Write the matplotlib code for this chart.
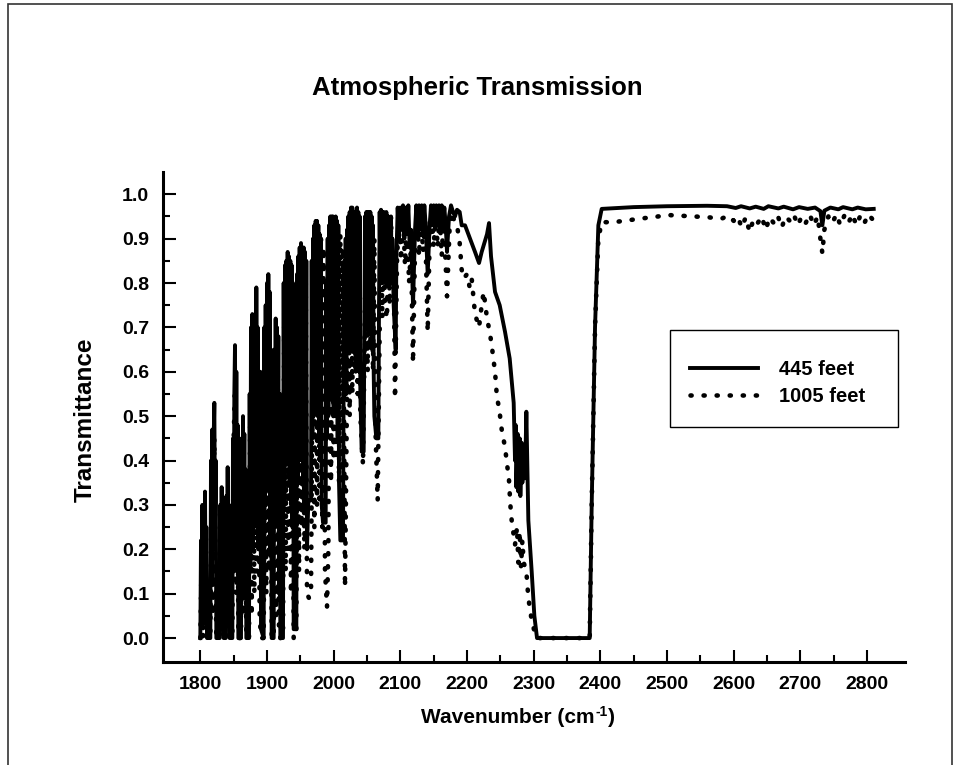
import numpy as np
import matplotlib.pyplot as plt
from matplotlib.patches import Rectangle

plt.rcParams['font.family'] = ['Liberation Sans', 'DejaVu Sans']
plt.rcParams['font.weight'] = 'bold'
plt.rcParams['path.simplify'] = False

# 445 feet path (wavenumber, transmittance)
wn_445 = [1800, 1801, 1802, 1803, 1804, 1805, 1806, 1807, 1808, 1809, 1810, 1815,
          1816, 1817, 1818, 1819, 1820, 1821, 1822, 1823, 1824, 1829,
          1830, 1831, 1832, 1833, 1834, 1835, 1838, 1839, 1840, 1841, 1842, 1843, 1844, 1848,
          1849, 1850, 1851, 1852, 1853, 1854, 1855, 1856, 1857, 1861,
          1862, 1863, 1864, 1865, 1866, 1867, 1868, 1869, 1873,
          1874, 1875, 1876, 1877, 1878, 1879, 1880, 1881, 1882, 1883, 1884, 1885, 1886, 1887,
          1888, 1889, 1890, 1891, 1895,
          1896, 1897, 1898, 1899, 1900, 1901, 1902, 1903, 1904, 1905, 1906, 1907, 1910,
          1911, 1912, 1913, 1914, 1915, 1916, 1917, 1918, 1919, 1920, 1924,
          1925, 1926, 1927, 1928, 1929, 1930, 1931, 1932, 1933, 1934, 1935, 1936, 1937, 1938,
          1939, 1940, 1944,
          1945, 1946, 1947, 1948, 1949, 1950, 1951, 1952, 1953, 1954, 1955, 1956, 1957, 1958,
          1959, 1960, 1962, 1966,
          1967, 1968, 1969, 1970, 1971, 1972, 1973, 1974, 1975, 1976, 1977, 1978, 1979, 1980,
          1981, 1982, 1984, 1988,
          1989, 1990, 1991, 1992, 1993, 1994, 1995, 1996, 1997, 1998, 1999, 2000, 2001, 2002,
          2003, 2004, 2005, 2006, 2007, 2008, 2010, 2014,
          2015, 2016, 2017, 2018, 2019, 2020, 2021, 2022, 2023, 2024, 2025, 2026, 2027, 2028,
          2029, 2030, 2031, 2032, 2033, 2034, 2035, 2036, 2037, 2038, 2039, 2040, 2042, 2045,
          2046, 2047, 2048, 2049, 2050, 2051, 2052, 2053, 2054, 2055, 2056, 2057, 2058, 2059,
          2060, 2061, 2064, 2067,
          2068, 2069, 2070, 2071, 2072, 2073, 2074, 2075, 2076, 2077, 2078, 2079, 2080, 2081,
          2082, 2083, 2084, 2085, 2086, 2087, 2088, 2090, 2093,
          2094, 2096, 2098, 2100, 2102, 2104, 2106, 2108, 2110, 2112, 2114, 2116, 2119, 2122,
          2124, 2126, 2128, 2130, 2132, 2134, 2136, 2138, 2141, 2144, 2146, 2148, 2150, 2152,
          2154, 2156, 2158, 2160, 2162, 2164, 2166, 2168, 2170, 2173, 2176, 2179, 2182, 2185,
          2189, 2192, 2197, 2202, 2207, 2212, 2218, 2222, 2226, 2230, 2233, 2236, 2242, 2249,
          2257, 2264, 2270, 2272, 2273, 2274, 2276, 2277, 2279, 2280, 2282, 2283, 2285, 2287,
          2289, 2292, 2297, 2301, 2305, 2384, 2387, 2392, 2397, 2402, 2450, 2500, 2560, 2590,
          2603, 2611, 2624, 2633, 2645, 2652, 2667, 2675, 2689, 2698, 2711, 2722, 2730, 2733,
          2736, 2745, 2757, 2764, 2778, 2786, 2798, 2810]
tr_445 = [0.00, 0.22, 0.05, 0.30, 0.08, 0.28, 0.04, 0.33, 0.10, 0.25, 0.00, 0.00,
          0.40, 0.12, 0.47, 0.20, 0.45, 0.53, 0.25, 0.40, 0.00, 0.00,
          0.30, 0.05, 0.34, 0.10, 0.30, 0.00, 0.00, 0.32, 0.08, 0.385, 0.10, 0.30, 0.00, 0.00,
          0.45, 0.15, 0.55, 0.66, 0.25, 0.60, 0.15, 0.48, 0.00, 0.00,
          0.45, 0.15, 0.50, 0.20, 0.46, 0.10, 0.38, 0.00, 0.00,
          0.55, 0.15, 0.70, 0.25, 0.73, 0.20, 0.60, 0.25, 0.72, 0.30, 0.79, 0.35, 0.70, 0.20,
          0.55, 0.25, 0.60, 0.02, 0.00,
          0.70, 0.30, 0.75, 0.35, 0.80, 0.40, 0.82, 0.40, 0.78, 0.20, 0.65, 0.00, 0.00,
          0.65, 0.25, 0.72, 0.30, 0.70, 0.35, 0.68, 0.10, 0.55, 0.00, 0.00,
          0.80, 0.30, 0.84, 0.40, 0.85, 0.45, 0.87, 0.40, 0.86, 0.35, 0.85, 0.30, 0.84, 0.25,
          0.80, 0.02, 0.02,
          0.82, 0.35, 0.86, 0.40, 0.88, 0.45, 0.89, 0.40, 0.88, 0.35, 0.88, 0.30, 0.87, 0.30,
          0.85, 0.20, 0.31, 0.31,
          0.85, 0.45, 0.90, 0.50, 0.93, 0.55, 0.94, 0.55, 0.94, 0.50, 0.93, 0.45, 0.91, 0.40,
          0.90, 0.30, 0.26, 0.26,
          0.80, 0.45, 0.90, 0.50, 0.93, 0.55, 0.95, 0.55, 0.95, 0.60, 0.95, 0.50, 0.94, 0.55,
          0.95, 0.50, 0.94, 0.45, 0.93, 0.35, 0.22, 0.22,
          0.60, 0.85, 0.55, 0.90, 0.55, 0.92, 0.65, 0.95, 0.65, 0.96, 0.70, 0.97, 0.70, 0.97,
          0.65, 0.96, 0.70, 0.96, 0.60, 0.95, 0.97, 0.65, 0.96, 0.60, 0.95, 0.55, 0.42, 0.42,
          0.70, 0.95, 0.70, 0.96, 0.75, 0.96, 0.75, 0.96, 0.70, 0.96, 0.70, 0.95, 0.65, 0.93,
          0.60, 0.50, 0.45, 0.45,
          0.75, 0.96, 0.80, 0.965, 0.80, 0.96, 0.85, 0.96, 0.80, 0.95, 0.85, 0.96, 0.80, 0.85,
          0.95, 0.80, 0.94, 0.85, 0.95, 0.80, 0.90, 0.75, 0.65,
          0.85, 0.97, 0.90, 0.97, 0.92, 0.975, 0.90, 0.97, 0.91, 0.975, 0.88, 0.92, 0.75, 0.92,
          0.975, 0.91, 0.975, 0.92, 0.975, 0.91, 0.975, 0.93, 0.82, 0.93, 0.975, 0.93, 0.975, 0.92,
          0.975, 0.93, 0.975, 0.92, 0.975, 0.93, 0.97, 0.93, 0.87, 0.95, 0.975, 0.96, 0.95, 0.965,
          0.96, 0.93, 0.93, 0.91, 0.89, 0.87, 0.845, 0.87, 0.89, 0.91, 0.935, 0.86, 0.78, 0.75,
          0.69, 0.63, 0.53, 0.40, 0.48, 0.34, 0.46, 0.33, 0.45, 0.32, 0.44, 0.35, 0.42, 0.36,
          0.51, 0.265, 0.15, 0.05, 0.00, 0.00, 0.30, 0.70, 0.93, 0.967, 0.971, 0.973, 0.974, 0.973,
          0.969, 0.973, 0.968, 0.972, 0.967, 0.973, 0.968, 0.972, 0.966, 0.971, 0.967, 0.970, 0.962, 0.930,
          0.963, 0.970, 0.966, 0.971, 0.966, 0.970, 0.966, 0.967]

# 1005 feet path
wn_1005 = [1800, 1802, 1804, 1806, 1808, 1810, 1815, 1817, 1819, 1821, 1823, 1824, 1829, 1831,
           1833, 1835, 1838, 1840, 1842, 1844, 1848, 1850, 1852, 1854, 1856, 1857, 1861, 1863,
           1865, 1867, 1869, 1873, 1875, 1877, 1879, 1881, 1883, 1885, 1887, 1889, 1891, 1895,
           1897, 1899, 1901, 1903, 1905, 1907, 1910, 1912, 1914, 1916, 1918, 1920, 1924, 1926,
           1928, 1930, 1932, 1934, 1936, 1938, 1940, 1944, 1946, 1948, 1950, 1952, 1954, 1956,
           1958, 1960, 1963, 1966, 1969, 1971, 1973, 1975, 1977, 1979, 1981, 1983, 1985, 1987,
           1990, 1992, 1994, 1996, 1998, 2000, 2002, 2004, 2006, 2008, 2010, 2012, 2014, 2017,
           2020, 2022, 2024, 2026, 2028, 2030, 2032, 2034, 2036, 2038, 2040, 2044, 2047, 2049,
           2051, 2053, 2055, 2057, 2059, 2061, 2063, 2066, 2069, 2071, 2073, 2075, 2077, 2080,
           2082, 2084, 2086, 2088, 2090, 2092, 2095, 2098, 2101, 2104, 2107, 2110, 2113, 2116,
           2119, 2122, 2125, 2128, 2131, 2134, 2137, 2141, 2144, 2147, 2150, 2153, 2156, 2159,
           2162, 2165, 2170, 2174, 2178, 2182, 2186, 2189, 2192, 2195, 2200, 2204, 2207, 2212,
           2218, 2222, 2225, 2230, 2234, 2237, 2242, 2245, 2248, 2252, 2257, 2263, 2265, 2267,
           2272, 2275, 2277, 2279, 2281, 2283, 2285, 2289, 2292, 2297, 2302, 2305, 2384, 2387,
           2392, 2397, 2402, 2420, 2460, 2503, 2540, 2562, 2582, 2592, 2600, 2606, 2612, 2618,
           2624, 2630, 2636, 2642, 2648, 2654, 2660, 2666, 2672, 2678, 2684, 2690, 2696, 2702,
           2708, 2714, 2720, 2726, 2730, 2733, 2736, 2742, 2748, 2754, 2760, 2766, 2772, 2778,
           2784, 2790, 2796, 2802, 2810]
tr_1005 = [0.00, 0.18, 0.00, 0.25, 0.02, 0.00, 0.00, 0.38, 0.05, 0.45, 0.10, 0.00, 0.00, 0.25,
           0.02, 0.00, 0.00, 0.30, 0.05, 0.00, 0.00, 0.45, 0.56, 0.10, 0.40, 0.00, 0.00, 0.40,
           0.05, 0.35, 0.00, 0.00, 0.55, 0.05, 0.63, 0.10, 0.68, 0.15, 0.50, 0.05, 0.00, 0.00,
           0.65, 0.10, 0.74, 0.15, 0.60, 0.00, 0.00, 0.62, 0.05, 0.63, 0.02, 0.00, 0.00, 0.76,
           0.15, 0.81, 0.20, 0.82, 0.10, 0.78, 0.00, 0.00, 0.78, 0.15, 0.84, 0.25, 0.86, 0.20,
           0.84, 0.10, 0.09, 0.10, 0.83, 0.25, 0.88, 0.30, 0.91, 0.30, 0.90, 0.25, 0.88, 0.15,
           0.07, 0.20, 0.85, 0.35, 0.92, 0.40, 0.93, 0.40, 0.93, 0.35, 0.91, 0.30, 0.88, 0.115,
           0.55, 0.87, 0.50, 0.92, 0.55, 0.94, 0.60, 0.95, 0.55, 0.93, 0.50, 0.39, 0.75, 0.93,
           0.60, 0.94, 0.65, 0.94, 0.60, 0.90, 0.45, 0.31, 0.70, 0.94, 0.72, 0.95, 0.75, 0.72,
           0.94, 0.75, 0.95, 0.80, 0.85, 0.54, 0.85, 0.96, 0.85, 0.96, 0.84, 0.96, 0.80, 0.88,
           0.62, 0.88, 0.96, 0.86, 0.96, 0.87, 0.95, 0.69, 0.90, 0.96, 0.88, 0.96, 0.88, 0.96,
           0.86, 0.95, 0.77, 0.93, 0.96, 0.93, 0.92, 0.89, 0.83, 0.81, 0.82, 0.79, 0.81, 0.73,
           0.70, 0.75, 0.78, 0.72, 0.69, 0.66, 0.60, 0.54, 0.52, 0.47, 0.43, 0.355, 0.30, 0.265,
           0.21, 0.25, 0.17, 0.24, 0.16, 0.22, 0.17, 0.15, 0.09, 0.04, 0.01, 0.00, 0.00, 0.30,
           0.70, 0.90, 0.937, 0.937, 0.945, 0.953, 0.95, 0.948, 0.945, 0.952, 0.94, 0.95, 0.925, 0.948,
           0.915, 0.945, 0.935, 0.95, 0.92, 0.948, 0.935, 0.952, 0.925, 0.95, 0.94, 0.955, 0.93, 0.95,
           0.935, 0.955, 0.93, 0.95, 0.90, 0.867, 0.92, 0.95, 0.935, 0.955, 0.93, 0.952, 0.935, 0.955,
           0.93, 0.952, 0.935, 0.955, 0.94]

fig = plt.figure(figsize=(9.56, 7.65), dpi=100)
ax = fig.add_axes([0.1705, 0.1346, 0.7762, 0.6405])

ax.plot(wn_445, tr_445, color="black", linewidth=2.8, solid_joinstyle="round",
        label="445 feet")
ax.plot(wn_1005, tr_1005, color="black", linewidth=3.3, linestyle=(0, (0.25, 2.6)),
        dash_capstyle="round", label="1005 feet")

ax.set_xlim(1744, 2857)
ax.set_ylim(-0.054, 1.05)

ax.set_xticks(np.arange(1800, 2801, 100))
ax.set_xticks(np.arange(1850, 2751, 50), minor=True)
ax.set_yticks(np.arange(0, 1.01, 0.1))
ax.set_yticks(np.arange(0.05, 1.0, 0.1), minor=True)
ax.set_yticklabels([f"{v:.1f}" for v in np.arange(0, 1.01, 0.1)])

ax.tick_params(which="both", direction="in", colors="black", width=1.5,
               labelsize=14)
ax.tick_params(which="major", length=9)
ax.tick_params(which="minor", length=5)
ax.tick_params(axis="x", pad=10)
ax.tick_params(axis="y", pad=10)

for side in ["top", "right"]:
    ax.spines[side].set_visible(False)
for side in ["left", "bottom"]:
    ax.spines[side].set_linewidth(2.2)

# legend without its own frame, framed by hand like the scan
leg = ax.legend(loc="upper left", bbox_to_anchor=(690 / 956, 1 - 360 / 765),
                bbox_transform=fig.transFigure, fontsize=14.5, frameon=False,
                handlelength=3.4, handletextpad=1.0, labelspacing=0.42, borderpad=0,
                borderaxespad=0)
fig.add_artist(Rectangle((670 / 956, 1 - 427 / 765), 228 / 956, 97 / 765,
                         transform=fig.transFigure, fill=False, linewidth=1.0,
                         edgecolor="black"))

fig.text(0.499, 0.885, "Atmospheric Transmission", ha="center", va="center",
         fontsize=18.5, fontweight="bold")
fig.text(0.089, 0.451, "Transmittance", ha="center", va="center", rotation=90,
         fontsize=17.5, fontweight="bold")

# x label with a small raised "-1", pieced together
renderer = fig.canvas.get_renderer()
x_base = 1 - 723 / 765
t1 = fig.text(0, x_base, "Wavenumber (cm", ha="left", va="baseline", fontsize=15)
t2 = fig.text(0, x_base + 7 / 765, "-1", ha="left", va="baseline", fontsize=10)
t3 = fig.text(0, x_base, ")", ha="left", va="baseline", fontsize=15)
w1 = t1.get_window_extent(renderer).width
w2 = t2.get_window_extent(renderer).width
w3 = t3.get_window_extent(renderer).width
x_start = 518 - (w1 + w2 + w3 + 1) / 2
t1.set_x(x_start / 956)
t2.set_x((x_start + w1 + 0.5) / 956)
t3.set_x((x_start + w1 + w2 + 1) / 956)

# scanned page frame
fig.add_artist(Rectangle((8 / 956, -0.01), 944 / 956, 1.0048, transform=fig.transFigure,
                         fill=False, linewidth=1.2, edgecolor="#333333"))

fig.savefig("out.png", dpi=100)
